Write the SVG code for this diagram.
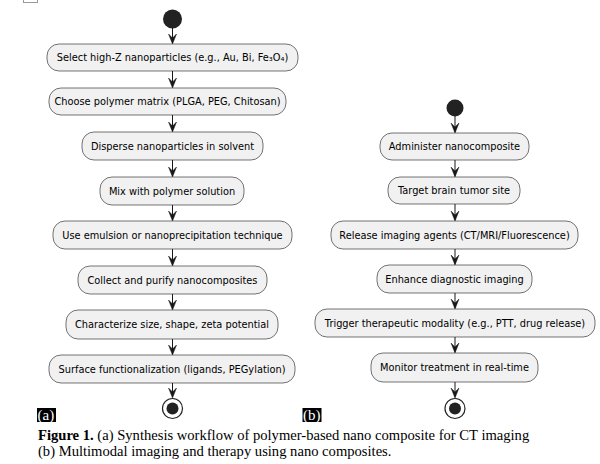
<svg xmlns="http://www.w3.org/2000/svg" width="600" height="464" viewBox="0 0 600 464">
<defs>
<style>
.node rect{fill:#F1F1F1;stroke:#181818;stroke-width:0.6}
.node text{font-family:"DejaVu Sans",sans-serif;font-size:9.8px;fill:#000;text-anchor:middle}
.conn line{stroke:#181818;stroke-width:1}
.conn polygon{fill:#181818;stroke:#181818;stroke-width:0.5}
.lbl rect{fill:#000}
.lbl text{font-family:"Liberation Serif",serif;font-size:15px;fill:#fff}
.cap{font-family:"Liberation Serif",serif;font-size:14.6px;fill:#000}
</style>
</defs>
<rect x="0" y="0" width="600" height="464" fill="#fff"/>
<rect x="23.5" y="-1" width="14" height="3.5" fill="none" stroke="#999" stroke-width="1"/>

<!-- Left column -->
<g id="startA"><circle cx="172.5" cy="19" r="9.5" fill="#222"/></g>
<g id="a1" class="node"><rect x="47" y="44" width="251" height="27" rx="12"/><text x="172.5" y="61">Select high-Z nanoparticles (e.g., Au, Bi, Fe₃O₄)</text></g>
<g id="a2" class="node"><rect x="49" y="88" width="237" height="27" rx="12"/><text x="167.5" y="105">Choose polymer matrix (PLGA, PEG, Chitosan)</text></g>
<g id="a3" class="node"><rect x="82" y="132" width="181" height="28" rx="12"/><text x="172.5" y="149.5">Disperse nanoparticles in solvent</text></g>
<g id="a4" class="node"><rect x="100" y="177" width="144" height="28" rx="12"/><text x="172" y="194.5">Mix with polymer solution</text></g>
<g id="a5" class="node"><rect x="53" y="221" width="239" height="28" rx="12"/><text x="172.5" y="238.5">Use emulsion or nanoprecipitation technique</text></g>
<g id="a6" class="node"><rect x="78" y="266" width="189" height="28" rx="12"/><text x="172.5" y="283.5">Collect and purify nanocomposites</text></g>
<g id="a7" class="node"><rect x="66" y="310" width="212" height="29" rx="12"/><text x="172" y="328">Characterize size, shape, zeta potential</text></g>
<g id="a8" class="node"><rect x="49" y="355" width="246" height="28" rx="12"/><text x="172" y="372.5">Surface functionalization (ligands, PEGylation)</text></g>
<g id="endA"><circle cx="172.5" cy="408.5" r="10" fill="#fff" stroke="#222" stroke-width="1.2"/><circle cx="172.5" cy="408.5" r="6" fill="#222"/></g>

<!-- Right column -->
<g id="startB"><circle cx="455" cy="108" r="8.5" fill="#222"/></g>
<g id="b1" class="node"><rect x="380" y="133" width="149" height="27" rx="12"/><text x="454.5" y="150">Administer nanocomposite</text></g>
<g id="b2" class="node"><rect x="388" y="177" width="132" height="27" rx="12"/><text x="454" y="194">Target brain tumor site</text></g>
<g id="b3" class="node"><rect x="331" y="221" width="247" height="28" rx="12"/><text x="454.5" y="238.5">Release imaging agents (CT/MRI/Fluorescence)</text></g>
<g id="b4" class="node"><rect x="377" y="265" width="155" height="28" rx="12"/><text x="454.5" y="282.5">Enhance diagnostic imaging</text></g>
<g id="b5" class="node"><rect x="315" y="309" width="280" height="28" rx="12"/><text x="455" y="326.5">Trigger therapeutic modality (e.g., PTT, drug release)</text></g>
<g id="b6" class="node"><rect x="371" y="353" width="167" height="29" rx="12"/><text x="454.5" y="371">Monitor treatment in real-time</text></g>
<g id="endB"><circle cx="455" cy="408.5" r="10" fill="#fff" stroke="#222" stroke-width="1.2"/><circle cx="455" cy="408.5" r="6" fill="#222"/></g>

<g id="connectors" class="conn">
<line x1="172.5" y1="28" x2="172.5" y2="43"/><polygon points="168.5,34 172.5,44 176.5,34 172.5,38"/>
<line x1="172.5" y1="71" x2="172.5" y2="87"/><polygon points="168.5,78 172.5,88 176.5,78 172.5,82"/>
<line x1="172.5" y1="115" x2="172.5" y2="131"/><polygon points="168.5,122 172.5,132 176.5,122 172.5,126"/>
<line x1="172.5" y1="160" x2="172.5" y2="176"/><polygon points="168.5,167 172.5,177 176.5,167 172.5,171"/>
<line x1="172.5" y1="205" x2="172.5" y2="220"/><polygon points="168.5,211 172.5,221 176.5,211 172.5,215"/>
<line x1="172.5" y1="249" x2="172.5" y2="265"/><polygon points="168.5,256 172.5,266 176.5,256 172.5,260"/>
<line x1="172.5" y1="294" x2="172.5" y2="309"/><polygon points="168.5,300 172.5,310 176.5,300 172.5,304"/>
<line x1="172.5" y1="339" x2="172.5" y2="354"/><polygon points="168.5,345 172.5,355 176.5,345 172.5,349"/>
<line x1="172.5" y1="383" x2="172.5" y2="397"/><polygon points="168.5,388 172.5,398 176.5,388 172.5,392"/>

<line x1="455" y1="116" x2="455" y2="132"/><polygon points="451,123 455,133 459,123 455,127"/>
<line x1="455" y1="160" x2="455" y2="176"/><polygon points="451,167 455,177 459,167 455,171"/>
<line x1="455" y1="204" x2="455" y2="220"/><polygon points="451,211 455,221 459,211 455,215"/>
<line x1="455" y1="249" x2="455" y2="264"/><polygon points="451,255 455,265 459,255 455,259"/>
<line x1="455" y1="293" x2="455" y2="308"/><polygon points="451,299 455,309 459,299 455,303"/>
<line x1="455" y1="337" x2="455" y2="352"/><polygon points="451,343 455,353 459,343 455,347"/>
<line x1="455" y1="382" x2="455" y2="397"/><polygon points="451,388 455,398 459,388 455,392"/>
</g>

<g id="labelA" class="lbl"><rect x="37" y="408" width="19" height="14"/><text x="37.5" y="420">(a)</text></g>
<g id="labelB" class="lbl"><rect x="302.5" y="408" width="19" height="14"/><text x="303" y="420">(b)</text></g>

<text class="cap" x="38" y="440"><tspan font-weight="bold">Figure 1.</tspan> (a) Synthesis workflow of polymer-based nano composite for CT imaging</text>
<text class="cap" x="38" y="456">(b) Multimodal imaging and therapy using nano composites.</text>
</svg>
